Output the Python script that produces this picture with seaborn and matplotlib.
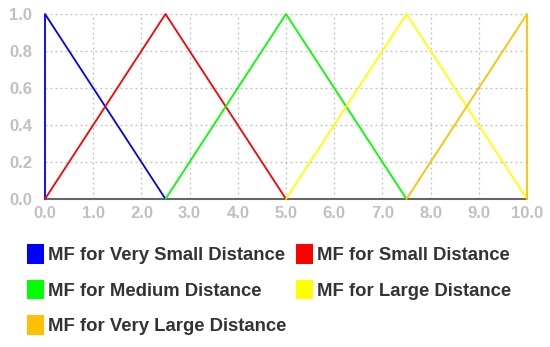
import matplotlib
matplotlib.use("Agg")
import matplotlib.pyplot as plt
from matplotlib.patches import Patch
import seaborn as sns
import pandas as pd

sns.set_theme(style="white")
plt.rcParams['font.family'] = ['Liberation Sans', 'DejaVu Sans']

series_names = ["MF for Very Small Distance", "MF for Small Distance",
                "MF for Medium Distance", "MF for Large Distance",
                "MF for Very Large Distance"]
colors = ["#0000ff", "#ff0000", "#00ff00", "#ffff00", "#ffc000"]

vs_x = [0.0, 0.0, 2.5]
vs_y = [0.0, 1.0, 0.0]
s_x = [0.0, 2.5, 5.0]
s_y = [0.0, 1.0, 0.0]
m_x = [2.5, 5.0, 7.5]
m_y = [0.0, 1.0, 0.0]
l_x = [5.0, 7.5, 10.0]
l_y = [0.0, 1.0, 0.0]
vl_x = [7.5, 10.0, 10.0]
vl_y = [0.0, 1.0, 0.0]

xs = [vs_x, s_x, m_x, l_x, vl_x]
ys = [vs_y, s_y, m_y, l_y, vl_y]

x_ticks = [0.0, 1.0, 2.0, 3.0, 4.0, 5.0, 6.0, 7.0, 8.0, 9.0, 10.0]
y_ticks = [0.0, 0.2, 0.4, 0.6, 0.8, 1.0]

rows = []
for name, xv, yv in zip(series_names, xs, ys):
    for i, (a, b) in enumerate(zip(xv, yv)):
        rows.append({"series": name, "order": i, "x": a, "y": b})
df = pd.DataFrame(rows)

fig = plt.figure(figsize=(5.5, 3.47), dpi=100)
ax = fig.add_axes([45/550, 1-199/347, (527-45)/550, (199-14)/347])

for name, c in zip(series_names, colors):
    sub = df[df["series"] == name]
    sns.lineplot(data=sub, x="x", y="y", sort=False, estimator=None,
                 color=c, linewidth=1.3, ax=ax, clip_on=False, zorder=3)

ax.set_xlim(0, 10)
ax.set_ylim(0, 1)
ax.set_xticks(x_ticks)
ax.set_yticks(y_ticks)
ax.set_xticklabels([f"{v:.1f}" for v in x_ticks])
ax.set_yticklabels([f"{v:.1f}" for v in y_ticks])
ax.set_xlabel("")
ax.set_ylabel("")
ax.grid(True, color="#bdbdbd", linestyle=(0, (1.5, 2.5)), linewidth=0.9)
for s in ["top", "right", "left"]:
    ax.spines[s].set_visible(False)
ax.spines["bottom"].set_color("#666666")
ax.spines["bottom"].set_linewidth(1.5)
ax.spines["bottom"].set_zorder(2)
ax.tick_params(axis="both", length=0, labelsize=12, labelcolor="#c0c0c0")
ax.tick_params(axis="y", pad=9)
ax.tick_params(axis="x", pad=5)
for lab in ax.get_xticklabels() + ax.get_yticklabels():
    lab.set_fontweight("bold")

order = [0, 2, 4, 1, 3]
handles = [Patch(facecolor=colors[i], edgecolor="none") for i in order]
labels = [series_names[i] for i in order]
fig.legend(handles, labels, loc="upper left", ncol=2,
           bbox_to_anchor=(27/550, 1-244/347), frameon=False,
           borderpad=0, borderaxespad=0, handlelength=0.92, handleheight=1.25,
           handletextpad=0.22, columnspacing=0.5, labelspacing=0.85,
           prop={"size": 13.3, "weight": "bold"}, labelcolor="#333333")

fig.savefig("out.png", dpi=100)
